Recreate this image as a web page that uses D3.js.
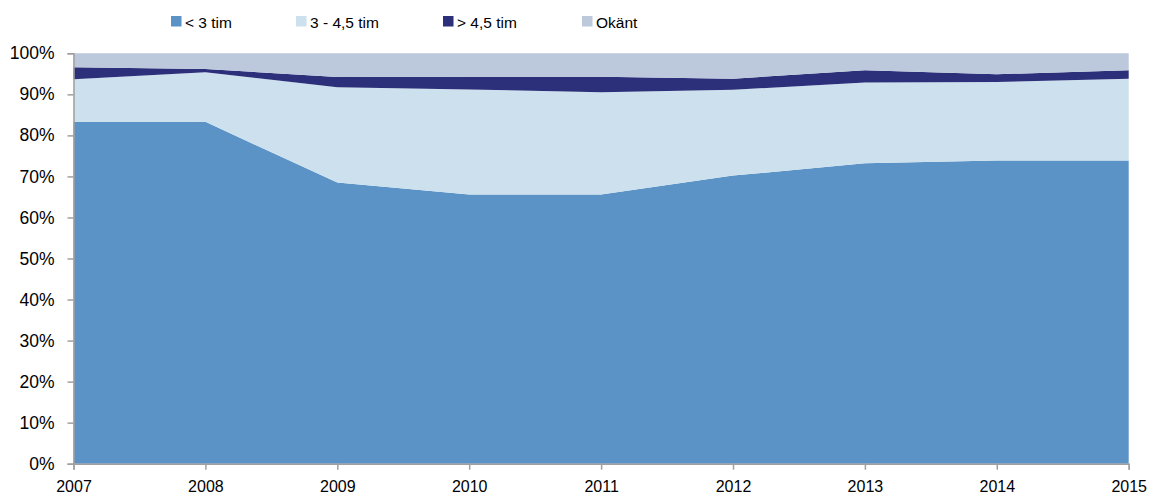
<!DOCTYPE html>
<html>
<head>
<meta charset="utf-8">
<script src="https://cdn.jsdelivr.net/npm/d3@7"></script>
<style>
  body { margin: 0; background: #fff; }
  svg { display: block; font-family: "Liberation Sans", Arial, sans-serif; }
</style>
</head>
<body>
<svg id="chart" width="1149" height="495"></svg>
<script>
const years = [2007, 2008, 2009, 2010, 2011, 2012, 2013, 2014, 2015];
const under3 = [83.3, 83.3, 68.5, 65.6, 65.6, 70.2, 73.2, 73.9, 73.9];
const from3to45 = [10.4, 12.1, 23.2, 25.6, 24.9, 20.9, 19.7, 19.1, 19.9];
const over45 = [2.9, 0.8, 2.5, 3.1, 3.8, 2.7, 3.0, 1.9, 2.1];
const unknown = [3.4, 3.8, 5.8, 5.7, 5.7, 6.2, 4.1, 5.1, 4.1];
const seriesNames = ["< 3 tim", "3 - 4,5 tim", "> 4,5 tim", "Okänt"];
const seriesColors = ["#5B93C6", "#CCE0EE", "#2C2F7A", "#BCC8DC"];
const yTicks = [0, 10, 20, 30, 40, 50, 60, 70, 80, 90, 100];

const seriesValues = [under3, from3to45, over45, unknown];
const rows = years.map((y, i) => {
  const r = { year: y };
  seriesNames.forEach((n, k) => r[n] = seriesValues[k][i]);
  return r;
});

const svg = d3.select("#chart");
const margin = { left: 73.5, right: 20.3, top: 53.3, bottom: 31.3 };
const W = 1149, H = 495;

const x = d3.scaleLinear().domain([2007, 2015]).range([margin.left, W - margin.right]);
const y = d3.scaleLinear().domain([0, 100]).range([H - margin.bottom, margin.top]);

const stack = d3.stack().keys(seriesNames).offset(d3.stackOffsetExpand);
const stacked = stack(rows);

const area = d3.area()
  .x(d => x(d.data.year))
  .y0(d => y(d[0] * 100))
  .y1(d => y(d[1] * 100));

svg.append("g").selectAll("path")
  .data(stacked)
  .join("path")
  .attr("fill", (d, i) => seriesColors[i])
  .attr("d", area);

// Y axis
const yAxis = d3.axisLeft(y).tickValues(yTicks).tickFormat(d => d + "%").tickSize(6).tickPadding(13);
const gy = svg.append("g").attr("transform", `translate(${margin.left},0)`).call(yAxis);
gy.selectAll("text").attr("font-size", 17.5).attr("fill", "#000").attr("font-family", "Liberation Sans, Arial, sans-serif");
gy.selectAll("line, path").attr("stroke", "#A0A0A0").attr("stroke-width", 1.5);

// X axis
const xAxis = d3.axisBottom(x).tickValues(years).tickFormat(d3.format("d")).tickSize(6).tickPadding(11);
const gx = svg.append("g").attr("transform", `translate(0,${H - margin.bottom})`).call(xAxis);
gx.selectAll("text").attr("font-size", 16).attr("fill", "#000").attr("font-family", "Liberation Sans, Arial, sans-serif");
gx.selectAll("line, path").attr("stroke", "#A0A0A0").attr("stroke-width", 1.5);

// Legend
const legendX = [171, 296, 443, 582];
const lg = svg.append("g");
seriesNames.forEach((n, i) => {
  lg.append("rect").attr("x", legendX[i]).attr("y", 16).attr("width", 10.5).attr("height", 10.5).attr("fill", seriesColors[i]);
  lg.append("text").attr("x", legendX[i] + 14).attr("y", 27.5).attr("font-size", 15.5).attr("fill", "#000").text(n);
});
</script>
</body>
</html>
